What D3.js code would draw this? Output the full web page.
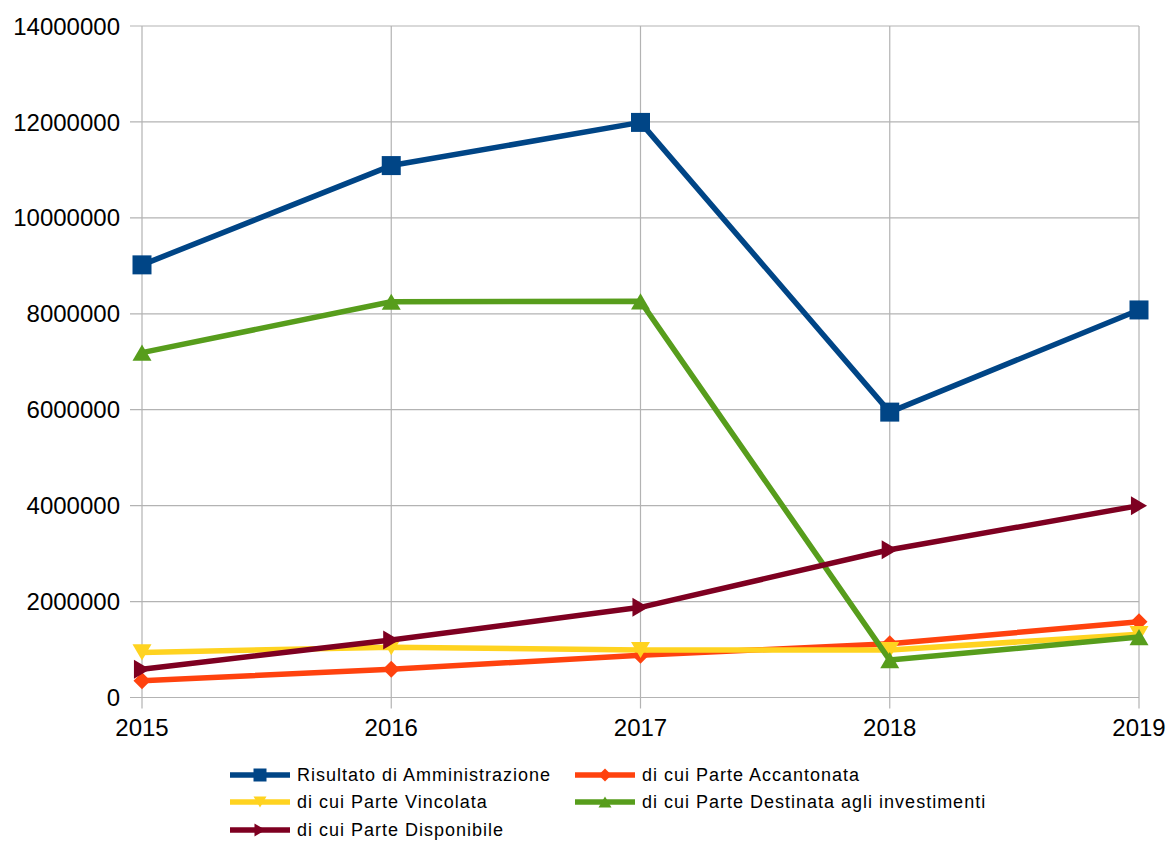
<!DOCTYPE html>
<html>
<head>
<meta charset="utf-8">
<script src="https://cdn.jsdelivr.net/npm/d3@7"></script>
<style>
  html, body { margin: 0; padding: 0; background: #fff; }
  svg { display: block; font-family: "Liberation Sans", Arial, sans-serif; }
</style>
</head>
<body>
<svg id="chart" width="1166" height="841"></svg>
<script>
// Years on the x axis
const years = ["2015", "2016", "2017", "2018", "2019"];

// Series values (euro)
const risultato   = [9020000, 11090000, 11990000, 5950000, 8080000];
const accantonata = [350000, 590000, 880000, 1120000, 1580000];
const vincolata   = [940000, 1050000, 990000, 990000, 1320000];
const investimenti = [7190000, 8250000, 8260000, 780000, 1260000];
const disponibile = [590000, 1200000, 1880000, 3080000, 4000000];

// Y axis ticks
const yTicks = [0, 2000000, 4000000, 6000000, 8000000, 10000000, 12000000, 14000000];

const seriesNames = [
  "Risultato di Amministrazione",
  "di cui Parte Accantonata",
  "di cui Parte Vincolata",
  "di cui Parte Destinata agli investimenti",
  "di cui Parte Disponibile"
];
const seriesValues = [risultato, accantonata, vincolata, investimenti, disponibile];
const seriesColors = ["#004586", "#ff420e", "#ffd320", "#579d1c", "#7e0021"];
const seriesMarkers = ["square", "diamond", "down", "up", "right"];

const svg = d3.select("#chart");
const plotLeft = 142, plotRight = 1139, plotTop = 26, plotBottom = 697.5;

const x = d3.scalePoint().domain(years).range([plotLeft, plotRight]);
const y = d3.scaleLinear().domain([0, 14000000]).range([plotBottom, plotTop]);

// Grid lines
const grid = svg.append("g");
grid.selectAll("line.h").data(yTicks).join("line")
  .attr("x1", plotLeft - 12).attr("x2", plotRight)
  .attr("y1", d => y(d)).attr("y2", d => y(d))
  .attr("stroke", "#b3b3b3").attr("stroke-width", 1.2);
grid.selectAll("line.v").data(years).join("line")
  .attr("x1", d => x(d)).attr("x2", d => x(d))
  .attr("y1", plotTop).attr("y2", plotBottom + 11)
  .attr("stroke", "#b3b3b3").attr("stroke-width", 1.2);

// Axis labels
svg.append("g").selectAll("text").data(yTicks).join("text")
  .attr("x", 120).attr("y", d => y(d))
  .attr("dy", "0.36em")
  .attr("text-anchor", "end")
  .attr("font-size", 24).attr("fill", "#000")
  .text(d => d3.format("d")(d));

svg.append("g").selectAll("text").data(years).join("text")
  .attr("x", d => x(d)).attr("y", 736)
  .attr("text-anchor", "middle")
  .attr("font-size", 24).attr("fill", "#000")
  .text(d => d);

// Marker shapes
function markerPath(type, s) {
  const h = s / 2;
  switch (type) {
    case "square": return `M${-h},${-h}H${h}V${h}H${-h}Z`;
    case "diamond": return `M0,${-h}L${h},0L0,${h}L${-h},0Z`;
    case "down": return `M${-h},${-h * 0.85}L${h},${-h * 0.85}L0,${h * 0.85}Z`;
    case "up": return `M${-h},${h * 0.85}L${h},${h * 0.85}L0,${-h * 0.85}Z`;
    case "right": return `M${-h * 0.85},${-h}L${h * 0.85},0L${-h * 0.85},${h}Z`;
  }
}
const markerSize = [19, 17, 19, 19, 19];

const line = d3.line().x((d, i) => x(years[i])).y(d => y(d));

seriesValues.forEach((vals, si) => {
  const g = svg.append("g");
  g.append("path")
    .attr("d", line(vals))
    .attr("fill", "none")
    .attr("stroke", seriesColors[si])
    .attr("stroke-width", 5.5)
    .attr("stroke-linejoin", "round");
  g.selectAll("path.m").data(vals).join("path")
    .attr("transform", (d, i) => `translate(${x(years[i])},${y(d)})`)
    .attr("d", markerPath(seriesMarkers[si], markerSize[si]))
    .attr("fill", seriesColors[si]);
});

// Legend
const legendPos = [
  [230, 775], [575, 775],
  [230, 802], [575, 802],
  [230, 830]
];
const legend = svg.append("g");
seriesNames.forEach((name, si) => {
  const [lx, ly] = legendPos[si];
  const g = legend.append("g").attr("transform", `translate(${lx},${ly})`);
  g.append("line").attr("x1", 0).attr("x2", 60).attr("y1", 0).attr("y2", 0)
    .attr("stroke", seriesColors[si]).attr("stroke-width", 5.5);
  g.append("path").attr("transform", "translate(30,0)")
    .attr("d", markerPath(seriesMarkers[si], 13))
    .attr("fill", seriesColors[si]);
  g.append("text").attr("x", 67).attr("y", 0).attr("dy", "0.35em")
    .attr("font-size", 18).attr("letter-spacing", 1).attr("fill", "#000")
    .text(name);
});
</script>
</body>
</html>
